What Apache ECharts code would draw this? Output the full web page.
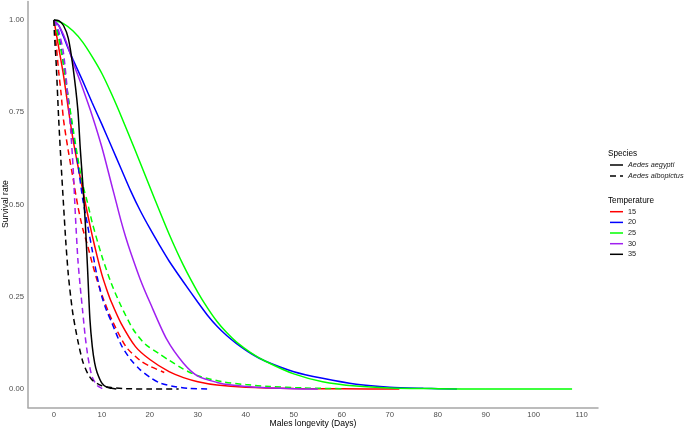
<!DOCTYPE html>
<html>
<head>
<meta charset="utf-8">
<script src="https://cdn.jsdelivr.net/npm/echarts@6/dist/echarts.min.js"></script>
<style>html,body{margin:0;padding:0;background:#fff}#c{width:685px;height:429px}</style>
</head>
<body>
<div id="c"></div>
<script>
// Tick labels
const xTicks = [0,10,20,30,40,50,60,70,80,90,100,110];
const yTicks = [0,0.25,0.5,0.75,1];
const temperatures = ['15','20','25','30','35'];
const species = ['Aedes aegypti','Aedes albopictus'];
const tempColors = ['#FF0000','#0000FF','#00FF00','#A020F0','#000000'];
const xTitle = 'Males longevity (Days)';
const yTitle = 'Survival rate';

// Aedes aegypti (solid) : [day, survival]
const aeg15 = [[0,1],[1,0.925],[2,0.85],[3,0.76],[4,0.675],[5,0.605],[6,0.54],[7,0.475],[8,0.415],[9,0.36],[10,0.31],[11,0.27],[12,0.235],[14,0.178],[17,0.115],[20,0.08],[24,0.047],[27,0.031],[30,0.02],[34,0.011],[40,0.005],[50,0.0015],[60,0.0005],[72,0]];
const aeg20 = [[0,1],[1,0.985],[2,0.955],[3,0.922],[4,0.892],[6,0.835],[8,0.775],[10,0.717],[12,0.657],[14,0.597],[16,0.537],[18,0.483],[20,0.435],[22,0.39],[24,0.347],[27,0.29],[30,0.235],[32,0.2],[34,0.17],[36,0.145],[38,0.124],[41,0.097],[44,0.076],[50,0.047],[56,0.029],[63,0.013],[70,0.005],[77,0.002],[84,0]];
const aeg25 = [[0,1],[2,0.99],[4,0.97],[6,0.94],[8,0.9],[10,0.855],[12,0.8],[14,0.74],[17,0.645],[21,0.515],[24,0.42],[27,0.335],[30,0.262],[32,0.22],[34,0.183],[36,0.153],[38,0.128],[41,0.099],[44,0.076],[50,0.041],[56,0.02],[63,0.008],[70,0.003],[80,0.001],[90,0],[108,0]];
const aeg30 = [[0,1],[1,0.985],[2,0.96],[3,0.925],[4,0.885],[6,0.815],[8,0.74],[10,0.655],[12,0.555],[13,0.505],[14,0.455],[15,0.41],[16,0.37],[18,0.297],[20,0.235],[23.5,0.135],[27,0.07],[30,0.035],[34,0.018],[37,0.011],[42,0.005],[50,0.001],[55,0]];
const aeg35 = [[0,1],[1,0.998],[2,0.985],[3,0.95],[4,0.87],[5,0.755],[5.5,0.65],[6,0.56],[6.5,0.46],[7,0.33],[7.5,0.19],[8,0.115],[8.5,0.07],[9,0.045],[10,0.016],[11,0.005],[12,0.002],[13,0]];

// Aedes albopictus (dashed)
const alb15 = [[0,1],[0.5,0.93],[1,0.86],[1.5,0.8],[2,0.73],[3,0.645],[4,0.57],[5,0.495],[6,0.435],[7,0.39],[8,0.34],[9,0.295],[10,0.255],[12,0.19],[15,0.115],[18,0.077],[20,0.062],[23,0.045]];
const alb20 = [[0,1],[1,0.96],[2,0.88],[3,0.785],[4,0.695],[5,0.61],[6,0.515],[7,0.445],[8,0.375],[9,0.305],[10,0.25],[11,0.212],[12,0.182],[14,0.12],[16,0.08],[18,0.052],[20,0.032],[22,0.017],[25,0.007],[28,0.002],[32,0]];
const alb25 = [[0,1],[1,0.95],[2,0.88],[3,0.79],[4,0.705],[5,0.625],[6,0.555],[7,0.505],[8,0.45],[10,0.36],[12,0.285],[14,0.225],[16.5,0.162],[19,0.122],[22,0.095],[24,0.078],[27,0.054],[30,0.036],[35,0.02],[40,0.012],[45,0.007],[52,0.003],[60,0.001]];
const alb30 = [[0,1],[1,0.97],[2,0.91],[3,0.78],[3.5,0.7],[4,0.6],[4.5,0.465],[5,0.35],[5.5,0.275],[6,0.21],[6.5,0.145],[7,0.095],[7.5,0.058],[8,0.032],[9,0.01],[10,0.002],[10.5,0]];
const alb35 = [[0,1],[0.1,0.965],[0.5,0.875],[1,0.73],[1.5,0.61],[2,0.5],[2.5,0.395],[3,0.31],[3.5,0.25],[4,0.2],[5,0.13],[6,0.075],[7,0.043],[8,0.024],[10,0.009],[12,0.004],[15,0.001],[20,0],[26,0]];

const aegData = [aeg15,aeg20,aeg25,aeg30,aeg35];
const albData = [alb15,alb20,alb25,alb30,alb35];

const FONT = 'Liberation Sans, Arial, Helvetica, sans-serif';
const DASH = [6,4];
const series = [];
for (let i = 0; i < 5; i++) {
  series.push({name:'aeg'+temperatures[i], type:'line', data:aegData[i], showSymbol:false, symbol:'none',
    smooth:0.25, lineStyle:{color:tempColors[i], width:1.5}, silent:true});
  series.push({name:'alb'+temperatures[i], type:'line', data:albData[i], showSymbol:false, symbol:'none',
    smooth:0.25, lineStyle:{color:tempColors[i], width:1.5, type:DASH}, silent:true});
}

// legend and axis titles drawn as graphic elements
const KX0 = 610, KX1 = 623, TX = 628;
const speciesY = [165, 176];
const tempY = [211.7, 222.4, 233.0, 243.7, 254.3];
const graphics = [
  {type:'text', x:608, y:154, style:{text:'Species', fontSize:8.2, fill:'#000', fontFamily:FONT, verticalAlign:'middle'}},
  {type:'text', x:608, y:201, style:{text:'Temperature', fontSize:8.2, fill:'#000', fontFamily:FONT, verticalAlign:'middle'}},
  {type:'text', x:6, y:204, rotation:Math.PI/2, style:{text:yTitle, fontSize:8.6, fill:'#000', fontFamily:FONT, align:'center', verticalAlign:'middle'}},
  {type:'text', x:313, y:423.5, style:{text:xTitle, fontSize:8.6, fill:'#000', fontFamily:FONT, align:'center', verticalAlign:'middle'}}
];
species.forEach((s, i) => {
  graphics.push({type:'line', shape:{x1:KX0, y1:speciesY[i], x2:KX1, y2:speciesY[i]},
    style:{stroke:'#000', lineWidth:1.5, lineDash: i === 1 ? DASH : null}});
  graphics.push({type:'text', x:TX, y:speciesY[i], style:{text:s, fontSize:7.3, fontStyle:'italic', fill:'#1A1A1A', fontFamily:FONT, verticalAlign:'middle'}});
});
temperatures.forEach((t, i) => {
  graphics.push({type:'line', shape:{x1:KX0, y1:tempY[i], x2:KX1, y2:tempY[i]},
    style:{stroke:tempColors[i], lineWidth:1.5}});
  graphics.push({type:'text', x:TX, y:tempY[i], style:{text:t, fontSize:7.3, fill:'#1A1A1A', fontFamily:FONT, verticalAlign:'middle'}});
});

const chart = echarts.init(document.getElementById('c'), null, {renderer:'canvas'});
chart.setOption({
  animation:false,
  backgroundColor:'#fff',
  textStyle:{fontFamily:FONT},
  grid:{left:28, right:87, top:1.5, bottom:21.5, containLabel:false, outerBoundsMode:'none'},
  xAxis:{type:'value', min:-5.4, max:113.4,
    axisLine:{show:true, onZero:false, lineStyle:{color:'#A6A6A6', width:1.5}},
    axisTick:{show:false, customValues:xTicks},
    axisLabel:{customValues:xTicks, fontSize:7.7, color:'#4D4D4D', margin:3, fontFamily:FONT},
    splitLine:{show:false}},
  yAxis:{type:'value', min:-0.05, max:1.05,
    axisLine:{show:true, onZero:false, lineStyle:{color:'#A6A6A6', width:1.5}},
    axisTick:{show:false, customValues:yTicks},
    axisLabel:{customValues:yTicks, fontSize:7.7, color:'#4D4D4D', margin:4, fontFamily:FONT,
      formatter:v=>v.toFixed(2)},
    splitLine:{show:false}},
  graphic:graphics,
  series:series
});
</script>
</body>
</html>
